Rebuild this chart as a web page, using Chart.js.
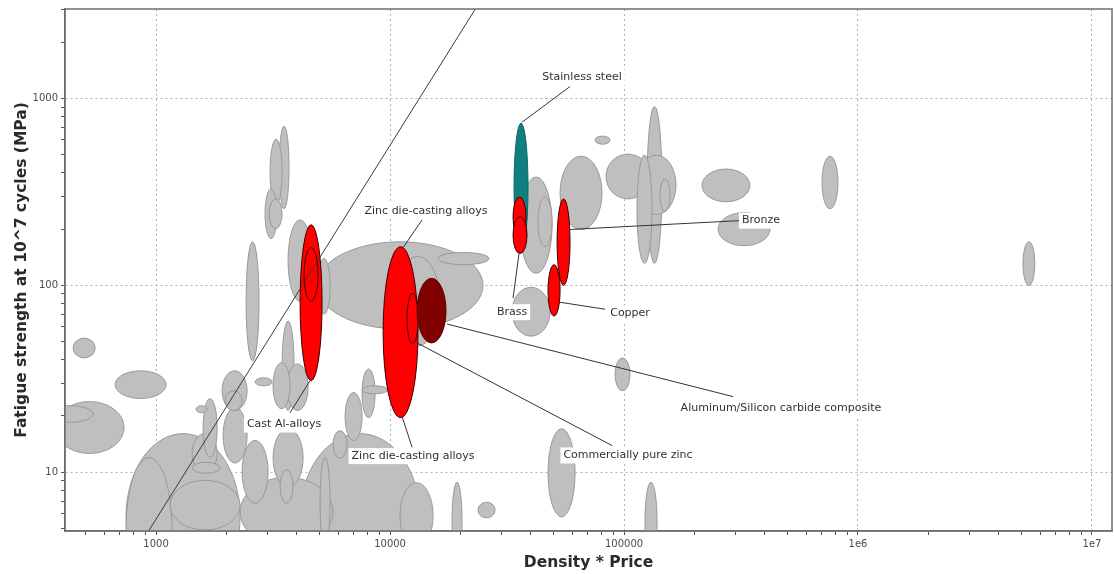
<!DOCTYPE html>
<html>
<head>
<meta charset="utf-8">
<script src="https://cdn.jsdelivr.net/npm/chart.js@4.4.1/dist/chart.umd.min.js"></script>
<style>
  html, body { margin: 0; padding: 0; background: #ffffff; }
  #wrap { width: 1114px; height: 574px; }
</style>
</head>
<body>
<div id="wrap"><canvas id="chart" width="1114" height="574"></canvas></div>
<script>
// Material property envelopes: [densityPriceLow, densityPriceHigh, fatigueLow, fatigueHigh]
const otherMaterials = [
  [442, 549, 40.9, 52.2],
  [668, 1104, 24.8, 34.9],
  [370, 730, 12.6, 23.9],
  [336, 538, 18.5, 22.7],
  [744, 2286, 2.08, 16.1],
  [744, 1170, 2.08, 12],
  [1148, 2286, 4.91, 9.06],
  [1426, 1823, 9.88, 16.1],
  [1426, 1878, 9.88, 11.3],
  [1588, 1823, 12, 24.8],
  [1482, 1652, 20.8, 22.7],
  [1915, 2449, 21.4, 34.9],
  [1972, 2332, 21.4, 27.3],
  [1934, 2449, 11.2, 22.2],
  [2650, 3134, 29, 32],
  [2332, 3011, 6.84, 14.8],
  [3162, 3737, 21.9, 38.5],
  [3456, 3888, 21.4, 64.4],
  [3629, 4464, 21.4, 38],
  [3162, 4249, 8.32, 17.1],
  [3388, 3850, 6.84, 10.3],
  [2286, 5707, 4.0, 9.4],
  [5022, 5542, 4.0, 12],
  [5707, 6551, 11.9, 16.7],
  [6426, 7592, 14.8, 26.7],
  [7592, 8630, 19.6, 35.7],
  [7592, 9799, 26.3, 29],
  [4125, 13430, 2.08, 16.1],
  [11030, 15270, 3.9, 8.8],
  [18400, 20310, 3.4, 8.84],
  [23770, 28110, 5.7, 6.92],
  [47340, 61770, 5.77, 17.1],
  [122900, 138400, 3.4, 8.84],
  [91530, 106100, 27.3, 40.9],
  [2425, 2754, 39.4, 171],
  [3356, 3700, 257, 710],
  [3070, 3456, 270, 605],
  [2922, 3289, 178, 328],
  [3041, 3456, 201, 290],
  [3664, 4642, 82.2, 224],
  [4924, 5542, 70.2, 139],
  [4877, 24960, 58.4, 171],
  [16030, 26490, 129, 150],
  [10500, 16340, 47.4, 143],
  [35940, 49250, 116, 380],
  [42880, 49250, 161, 297],
  [53290, 80520, 199, 491],
  [75170, 87130, 569, 629],
  [83750, 129200, 290, 504],
  [113600, 166800, 239, 497],
  [113600, 131700, 131, 497],
  [125400, 145300, 131, 907],
  [142500, 157300, 248, 371],
  [215400, 345300, 280, 419],
  [252200, 420800, 163, 245],
  [701800, 821300, 257, 491],
  [5070000, 5700000, 100, 171],
  [33210, 48280, 53.5, 97.6]
];

// Highlighted materials, drawn in this order
const highlightNames = [
  'Cast Al-alloys', 'Cast Al-alloys (inner)', 'Zinc die-casting alloys', 'Commercially pure zinc',
  'Aluminum/Silicon carbide composite', 'Stainless steel', 'Brass', 'Brass (leaded)', 'Bronze', 'Copper'
];
const highlightRanges = [
  [4125, 5121, 30.9, 211],
  [4291, 4924, 82.2, 159],
  [9336, 13170, 19.6, 161],
  [11820, 13170, 48.5, 90.6],
  [13050, 17340, 49.2, 109],
  [33870, 38880, 152, 737],
  [33540, 38120, 182, 297],
  [33540, 38500, 148, 233],
  [51750, 58770, 100, 290],
  [47340, 53290, 68.5, 129]
];
const highlightGroup = ['metal', 'metal', 'metal', 'metal', 'composite', 'steel', 'metal', 'metal', 'metal', 'metal'];

// Performance index guideline (slope 2 on log-log axes)
const guideDensityPrice = [900, 24000];
const guideFatigue = [4.55, 3236];

// Callouts: text, label anchor [x, y], leader start [x, y], leader end [x, y]
const calloutText = [
  'Stainless steel', 'Zinc die-casting alloys', 'Bronze', 'Brass', 'Copper',
  'Aluminum/Silicon carbide composite', 'Commercially pure zinc', 'Zinc die-casting alloys', 'Cast Al-alloys'
];
const calloutAt = [
  [66140, 1293], [14250, 251], [384700, 222], [33210, 71.8], [106100, 70.9],
  [468700, 21.9], [104000, 12.3], [12540, 12.2], [3524, 18]
];
const calloutFrom = [
  [58770, 1158], [13700, 224], [313300, 222], [33540, 85.3], [82950, 74.5],
  [292400, 25.4], [88850, 13.9], [12420, 13.6], [3737, 20.8]
];
const calloutTo = [
  [36650, 746], [11360, 159], [58770, 199], [35580, 148], [53290, 81.2],
  [17520, 62.1], [13050, 49.2], [11250, 19.9], [4550, 30.9]
];

// Axis labels
const xTickValues = [1e3, 1e4, 1e5, 1e6, 1e7];
const xTickLabels = ['1000', '10000', '100000', '1e6', '1e7'];
const yTickValues = [10, 100, 1000];
const yTickLabels = ['10', '100', '1000'];

const groupStyle = {
  other:     { fill: '#bfbfbf', stroke: '#999999' },
  metal:     { fill: '#ff0000', stroke: '#3a0000' },
  composite: { fill: '#800000', stroke: '#5a0000' },
  steel:     { fill: '#0f7f7f', stroke: '#0b6a6a' }
};

function logTicks(min, max) {
  const out = [];
  for (let e = Math.floor(Math.log10(min)); e <= Math.ceil(Math.log10(max)); e++) {
    for (let m = 1; m <= 9; m++) {
      const v = m * Math.pow(10, e);
      if (v >= min && v <= max) out.push({ value: v, major: m === 1 });
    }
  }
  return out;
}
function isDecade(v) {
  const l = Math.log10(v);
  return Math.abs(l - Math.round(l)) < 1e-9;
}
function labelFor(values, labels, v) {
  for (let i = 0; i < values.length; i++) {
    if (Math.abs(values[i] - v) / values[i] < 1e-9) return labels[i];
  }
  return '';
}

const envelopePlugin = {
  id: 'envelopes',
  beforeDatasetsDraw(chart) {
    const { ctx, chartArea: a, scales: { x, y } } = chart;
    const box = (r) => {
      const x0 = x.getPixelForValue(r[0]), x1 = x.getPixelForValue(r[1]);
      const y0 = y.getPixelForValue(r[2]), y1 = y.getPixelForValue(r[3]);
      return { cx: (x0 + x1) / 2, cy: (y0 + y1) / 2, rx: Math.abs(x1 - x0) / 2, ry: Math.abs(y1 - y0) / 2 };
    };
    const draw = (b, st) => {
      ctx.beginPath();
      ctx.ellipse(b.cx, b.cy, b.rx, b.ry, 0, 0, Math.PI * 2);
      ctx.fillStyle = st.fill;
      ctx.fill();
      ctx.lineWidth = 1;
      ctx.strokeStyle = st.stroke;
      ctx.stroke();
    };
    ctx.save();
    ctx.beginPath();
    ctx.rect(a.left, a.top, a.right - a.left, a.bottom - a.top);
    ctx.clip();
    const others = otherMaterials.map(box).sort((p, q) => q.rx * q.ry - p.rx * p.ry);
    others.forEach(b => draw(b, groupStyle.other));
    highlightRanges.forEach((r, i) => draw(box(r), groupStyle[highlightGroup[i]]));
    ctx.restore();
  }
};

const calloutPlugin = {
  id: 'callouts',
  afterDatasetsDraw(chart) {
    const { ctx, chartArea: a, scales: { x, y } } = chart;
    ctx.save();
    // frame round the plot
    ctx.strokeStyle = '#6f6f6f';
    ctx.lineWidth = 1.5;
    ctx.strokeRect(a.left, a.top, a.right - a.left, a.bottom - a.top);
    // leader lines
    ctx.strokeStyle = '#333333';
    ctx.lineWidth = 1;
    calloutText.forEach((t, i) => {
      ctx.beginPath();
      ctx.moveTo(x.getPixelForValue(calloutFrom[i][0]), y.getPixelForValue(calloutFrom[i][1]));
      ctx.lineTo(x.getPixelForValue(calloutTo[i][0]), y.getPixelForValue(calloutTo[i][1]));
      ctx.stroke();
    });
    // labels on white boxes
    ctx.font = '11px "DejaVu Sans"';
    ctx.textAlign = 'center';
    ctx.textBaseline = 'middle';
    calloutText.forEach((t, i) => {
      const px = x.getPixelForValue(calloutAt[i][0]);
      const py = y.getPixelForValue(calloutAt[i][1]);
      const w = ctx.measureText(t).width;
      ctx.fillStyle = '#ffffff';
      ctx.fillRect(px - w / 2 - 3, py - 8, w + 6, 16);
      ctx.fillStyle = '#2f2f3a';
      ctx.fillText(t, px, py);
    });
    ctx.restore();
  }
};

const tickFont = { family: 'DejaVu Sans', size: 10 };
const titleFont = { family: 'DejaVu Sans', size: 15.5, weight: 'bold' };

new Chart(document.getElementById('chart'), {
  type: 'scatter',
  data: {
    datasets: [{
      type: 'line',
      data: guideDensityPrice.map((v, i) => ({ x: v, y: guideFatigue[i] })),
      borderColor: '#3a3a3a',
      borderWidth: 1,
      pointRadius: 0,
      fill: false,
      clip: 0
    }]
  },
  options: {
    responsive: false,
    devicePixelRatio: 1,
    animation: false,
    events: [],
    layout: { padding: { top: 6, right: 2, left: 0, bottom: 0 } },
    plugins: { legend: { display: false }, tooltip: { enabled: false } },
    scales: {
      x: {
        type: 'logarithmic',
        position: 'bottom',
        min: 408,
        max: 12180000,
        afterBuildTicks: s => { s.ticks = logTicks(s.min, s.max); },
        afterFit: s => { s.height = 43; },
        grid: {
          color: c => (c.tick && isDecade(c.tick.value)) ? '#b0b0b0' : 'rgba(0,0,0,0)',
          lineWidth: 1,
          drawTicks: true,
          tickLength: 4,
          tickColor: '#555555',
          tickWidth: 1,
          tickBorderDash: []
        },
        border: { display: true, color: '#6f6f6f', width: 1.5, dash: [2, 3] },
        ticks: {
          autoSkip: false,
          maxRotation: 0,
          padding: 3,
          font: tickFont,
          color: '#4a4a55',
          callback: v => labelFor(xTickValues, xTickLabels, v)
        },
        title: { display: true, text: 'Density * Price', font: titleFont, color: '#2a2a2a', padding: { top: 0, bottom: 2 } }
      },
      y: {
        type: 'logarithmic',
        position: 'left',
        min: 4.85,
        max: 3010,
        afterBuildTicks: s => { s.ticks = logTicks(s.min, s.max); },
        afterFit: s => { s.width = 65; },
        grid: {
          color: c => (c.tick && isDecade(c.tick.value)) ? '#b0b0b0' : 'rgba(0,0,0,0)',
          lineWidth: 1,
          drawTicks: true,
          tickLength: 4,
          tickColor: '#555555',
          tickWidth: 1,
          tickBorderDash: []
        },
        border: { display: true, color: '#6f6f6f', width: 1.5, dash: [2, 3] },
        ticks: {
          autoSkip: false,
          padding: 3,
          font: tickFont,
          color: '#4a4a55',
          callback: v => labelFor(yTickValues, yTickLabels, v)
        },
        title: { display: true, text: 'Fatigue strength at 10^7 cycles (MPa)', font: titleFont, color: '#2a2a2a', padding: { top: 13, bottom: 0 } }
      }
    }
  },
  plugins: [envelopePlugin, calloutPlugin]
});
</script>
</body>
</html>
